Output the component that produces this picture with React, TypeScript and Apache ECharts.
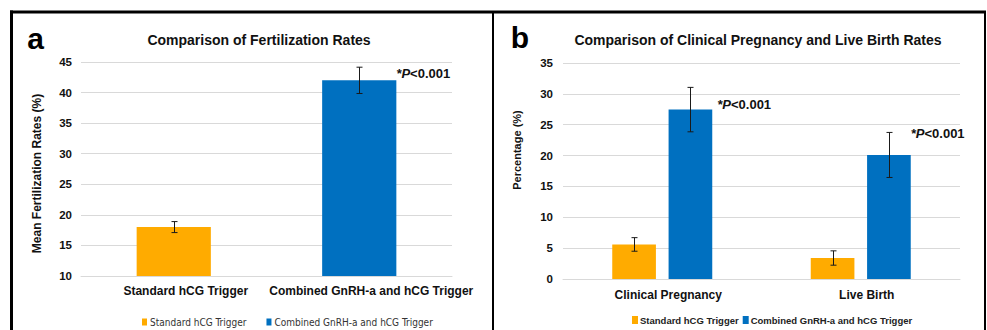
import React, { useEffect, useRef } from 'react';
import * as echarts from 'echarts';

// ---- data ----
const seriesNames = ['Standard hCG Trigger', 'Combined GnRH-a and hCG Trigger'];
const fertCategories = ['Standard hCG Trigger', 'Combined GnRH-a and hCG Trigger'];
const fertMeans = [18.0, 42.0];
const fertErrors = [0.9, 2.15];
const fertAxis = { min: 10, max: 45, interval: 5 };

const outcomeCategories = ['Clinical Pregnancy', 'Live Birth'];
const standardRates = [5.6, 3.4];
const standardErrors = [1.1, 1.16];
const combinedRates = [27.45, 20.1];
const combinedErrors = [3.6, 3.65];
const outcomeAxis = { min: 0, max: 35, interval: 5 };

const titleA = 'Comparison of Fertilization Rates';
const titleB = 'Comparison of Clinical Pregnancy and Live Birth Rates';
const yNameA = 'Mean Fertilization Rates (%)';
const yNameB = 'Percentage (%)';

// ---- styles ----
const ORANGE = '#FFAB00';
const BLUE = '#0070C0';
const FONT = 'Liberation Sans, Arial, sans-serif';
const GRID_COLOR = '#D9D9D9';
const B_BAR_W = 0.22;
const B_BAR_GAP = 0.29;

const pLabel = {
  show: true,
  formatter: '{i|*P}{n|<0.001}',
  align: 'left',
  verticalAlign: 'middle',
  rich: {
    i: { fontFamily: FONT, fontSize: 13, fontWeight: 'bold', fontStyle: 'italic', color: '#111' },
    n: { fontFamily: FONT, fontSize: 13, fontWeight: 'bold', color: '#111' },
  },
};

function errRender(sign: number, grouped: boolean) {
  return (params: any, api: any) => {
    const x = api.value(0);
    const lo = api.coord([x, api.value(1)]);
    const hi = api.coord([x, api.value(2)]);
    const band = api.size([1, 0])[0];
    let off = 0;
    if (grouped) {
      const w = band * B_BAR_W;
      const g = w * B_BAR_GAP;
      off = (sign * (w + g)) / 2;
    }
    const cx = Math.round(lo[0] + off) + 0.5;
    const cap = 3;
    const st = { stroke: '#1a1a1a', lineWidth: 1 };
    return {
      type: 'group',
      children: [
        { type: 'line', shape: { x1: cx, y1: hi[1], x2: cx, y2: lo[1] }, style: st },
        { type: 'line', shape: { x1: cx - cap, y1: hi[1], x2: cx + cap, y2: hi[1] }, style: st },
        { type: 'line', shape: { x1: cx - cap, y1: lo[1], x2: cx + cap, y2: lo[1] }, style: st },
      ],
    };
  };
}

const axisLabelStyle = { fontFamily: FONT, fontSize: 12, fontWeight: 'bold', color: '#111' };

export default function App() {
  const ref = useRef<HTMLDivElement>(null);
  useEffect(() => {
    if (!ref.current) return;
    const chart = echarts.init(ref.current, undefined, { renderer: 'svg' });
    const option: any = {
      animation: false,
      backgroundColor: '#fff',
      grid: [
        { left: 81, right: 535, top: 62, bottom: 54 },
        { left: 563, right: 27, top: 63, bottom: 51 },
      ],
      xAxis: [
        {
          gridIndex: 0,
          type: 'category',
          data: fertCategories,
          axisTick: { show: false },
          axisLine: { lineStyle: { color: GRID_COLOR } },
          axisLabel: { ...axisLabelStyle, interval: 0, hideOverlap: false, margin: 9, padding: [0, 0, 0, 24] },
        },
        {
          gridIndex: 1,
          type: 'category',
          data: outcomeCategories,
          axisTick: { show: false },
          axisLine: { lineStyle: { color: GRID_COLOR } },
          axisLabel: { ...axisLabelStyle, interval: 0, margin: 10, padding: [0, 0, 0, 12] },
        },
      ],
      yAxis: [
        {
          gridIndex: 0,
          type: 'value',
          ...fertAxis,
          axisLine: { show: false },
          axisTick: { show: false },
          splitLine: { lineStyle: { color: GRID_COLOR } },
          axisLabel: { ...axisLabelStyle, fontSize: 11.5, margin: 9 },
        },
        {
          gridIndex: 1,
          type: 'value',
          ...outcomeAxis,
          axisLine: { show: false },
          axisTick: { show: false },
          splitLine: { lineStyle: { color: GRID_COLOR } },
          axisLabel: { ...axisLabelStyle, fontSize: 11.5, margin: 10 },
        },
      ],
      legend: [
        {
          data: seriesNames,
          left: 137,
          top: 312,
          icon: 'rect',
          itemWidth: 5,
          itemHeight: 7,
          itemGap: 20,
          selectedMode: false,
          textStyle: {
            fontFamily: 'Liberation Sans Narrow, DejaVu Sans Condensed, sans-serif',
            fontSize: 10,
            color: '#333',
            padding: [0, 0, 0, -2],
          },
        },
        {
          data: seriesNames,
          left: 627,
          top: 310,
          icon: 'rect',
          itemWidth: 6,
          itemHeight: 8,
          itemGap: 4,
          selectedMode: false,
          textStyle: {
            fontFamily: FONT,
            fontSize: 9.5,
            fontWeight: 'bold',
            color: '#222',
            padding: [0, 0, 0, -3],
          },
        },
      ],
      series: [
        {
          type: 'bar',
          name: seriesNames[0],
          xAxisIndex: 0,
          yAxisIndex: 0,
          barWidth: '40%',
          barGap: '-100%',
          itemStyle: { color: ORANGE },
          data: fertMeans.map((v, i) => (i === 0 ? v : '-')),
        },
        {
          type: 'bar',
          name: seriesNames[1],
          xAxisIndex: 0,
          yAxisIndex: 0,
          barWidth: '40%',
          barGap: '-100%',
          itemStyle: { color: BLUE },
          data: fertMeans.map((v, i) =>
            i === 1 ? { value: v, label: { ...pLabel, position: ['100%', 0], offset: [0, -7] } } : '-'
          ),
        },
        {
          type: 'custom',
          name: 'errA',
          xAxisIndex: 0,
          yAxisIndex: 0,
          renderItem: errRender(0, false),
          encode: { x: 0, y: [1, 2] },
          data: fertMeans.map((m, i) => [i, m - fertErrors[i], m + fertErrors[i]]),
          z: 10,
        },
        {
          type: 'bar',
          name: seriesNames[0],
          xAxisIndex: 1,
          yAxisIndex: 1,
          barWidth: B_BAR_W * 100 + '%',
          barGap: B_BAR_GAP * 100 + '%',
          itemStyle: { color: ORANGE },
          data: standardRates,
        },
        {
          type: 'bar',
          name: seriesNames[1],
          xAxisIndex: 1,
          yAxisIndex: 1,
          barWidth: B_BAR_W * 100 + '%',
          barGap: B_BAR_GAP * 100 + '%',
          itemStyle: { color: BLUE },
          data: combinedRates.map((v, i) => ({
            value: v,
            label: { ...pLabel, position: ['100%', 0], offset: i === 0 ? [5, -5] : [0, -21] },
          })),
        },
        {
          type: 'custom',
          name: 'errB1',
          xAxisIndex: 1,
          yAxisIndex: 1,
          renderItem: errRender(-1, true),
          encode: { x: 0, y: [1, 2] },
          data: standardRates.map((m, i) => [i, m - standardErrors[i], m + standardErrors[i]]),
          z: 10,
        },
        {
          type: 'custom',
          name: 'errB2',
          xAxisIndex: 1,
          yAxisIndex: 1,
          renderItem: errRender(1, true),
          encode: { x: 0, y: [1, 2] },
          data: combinedRates.map((m, i) => [i, m - combinedErrors[i], m + combinedErrors[i]]),
          z: 10,
        },
      ],
      graphic: [
        { type: 'line', shape: { x1: 10, y1: 12, x2: 986, y2: 12 }, style: { stroke: '#000', lineWidth: 3 } },
        { type: 'line', shape: { x1: 11.5, y1: 10.5, x2: 11.5, y2: 330 }, style: { stroke: '#000', lineWidth: 3 } },
        { type: 'line', shape: { x1: 493, y1: 12, x2: 493, y2: 330 }, style: { stroke: '#000', lineWidth: 2 } },
        { type: 'line', shape: { x1: 985, y1: 12, x2: 985, y2: 330 }, style: { stroke: '#000', lineWidth: 2 } },
        {
          type: 'text', x: 35.5, y: 38,
          style: { text: 'a', fontFamily: FONT, fontSize: 30, fontWeight: 'bold', fill: '#000', textAlign: 'center', textVerticalAlign: 'middle' },
        },
        {
          type: 'text', x: 520, y: 37,
          style: { text: 'b', fontFamily: FONT, fontSize: 30, fontWeight: 'bold', fill: '#000', textAlign: 'center', textVerticalAlign: 'middle' },
        },
        {
          type: 'text', x: 259, y: 40,
          style: { text: titleA, fontFamily: FONT, fontSize: 14, fontWeight: 'bold', fill: '#111', textAlign: 'center', textVerticalAlign: 'middle' },
        },
        {
          type: 'text', x: 758, y: 40,
          style: { text: titleB, fontFamily: FONT, fontSize: 14, fontWeight: 'bold', fill: '#111', textAlign: 'center', textVerticalAlign: 'middle' },
        },
        {
          type: 'text', x: 36.5, y: 173.5, rotation: Math.PI / 2,
          style: { text: yNameA, fontFamily: FONT, fontSize: 12, fontWeight: 'bold', fill: '#111', textAlign: 'center', textVerticalAlign: 'middle' },
        },
        {
          type: 'text', x: 516.5, y: 150, rotation: Math.PI / 2,
          style: { text: yNameB, fontFamily: FONT, fontSize: 11, fontWeight: 'bold', fill: '#111', textAlign: 'center', textVerticalAlign: 'middle' },
        },
      ],
    };
    chart.setOption(option);
    return () => chart.dispose();
  }, []);
  return (
    <div
      ref={ref}
      style={{ position: 'fixed', left: 0, top: 0, width: 987, height: 330, background: '#fff' }}
    />
  );
}
